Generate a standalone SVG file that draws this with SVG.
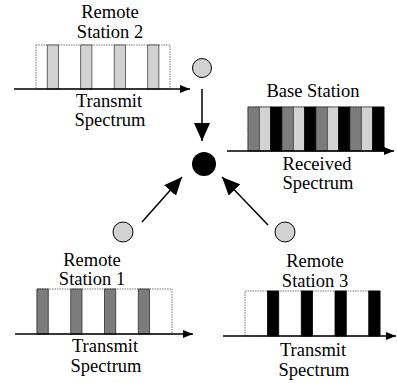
<svg xmlns="http://www.w3.org/2000/svg" width="397" height="383" viewBox="0 0 397 383">
<defs>
<marker id="big" viewBox="0 0 18 16" refX="18" refY="8" markerWidth="18" markerHeight="16" markerUnits="userSpaceOnUse" orient="auto"><path d="M0,0 L18,8 L0,16 z" fill="#000"/></marker>
<marker id="ax" viewBox="0 0 10 8" refX="10" refY="4" markerWidth="10" markerHeight="8" markerUnits="userSpaceOnUse" orient="auto"><path d="M0,0 L10,4 L0,8 z" fill="#000"/></marker>
</defs>
<style>
.t{font-family:'Times New Roman','Liberation Serif','DejaVu Serif',serif;font-size:18.5px;fill:#000;text-anchor:middle}
.box{fill:#fff;stroke:#777;stroke-width:1;stroke-dasharray:1.5,1}
.lt{fill:#d2d2d2;stroke:#444;stroke-width:0.8}
.dk{fill:#7c7c7c;stroke:#333;stroke-width:0.8}
.bk{fill:#000;stroke:#000;stroke-width:0.8}
.axis{stroke:#000;stroke-width:1.6;fill:none;marker-end:url(#ax)}
.conn{stroke:#000;stroke-width:1.5;fill:none;marker-end:url(#big)}
.st{fill:#d2d2d2;stroke:#000;stroke-width:1}
</style>
<rect width="397" height="383" fill="#fff"/>
<g id="remote2">
<text class="t" x="110" y="18">Remote</text>
<text class="t" x="110" y="38">Station 2</text>
<rect class="box" x="36" y="45" width="134" height="44"/>
<rect class="lt" x="47.2" y="45" width="11.2" height="44"/>
<rect class="lt" x="80.7" y="45" width="11.2" height="44"/>
<rect class="lt" x="114.2" y="45" width="11.2" height="44"/>
<rect class="lt" x="147.7" y="45" width="11.2" height="44"/>
<line class="axis" x1="14" y1="89" x2="190" y2="89"/>
<text class="t" x="109" y="107">Transmit</text>
<text class="t" x="110" y="126">Spectrum</text>
<circle class="st" cx="202" cy="68" r="9.5"/>
</g>
<g id="base">
<text class="t" x="313" y="97">Base Station</text>
<rect class="box" x="248" y="107" width="136" height="44"/>
<rect class="dk" x="248" y="107" width="11.33" height="44"/>
<rect class="lt" x="259.33" y="107" width="11.33" height="44"/>
<rect class="bk" x="270.67" y="107" width="11.33" height="44"/>
<rect class="dk" x="282" y="107" width="11.33" height="44"/>
<rect class="lt" x="293.33" y="107" width="11.33" height="44"/>
<rect class="bk" x="304.67" y="107" width="11.33" height="44"/>
<rect class="dk" x="316" y="107" width="11.33" height="44"/>
<rect class="lt" x="327.33" y="107" width="11.33" height="44"/>
<rect class="bk" x="338.67" y="107" width="11.33" height="44"/>
<rect class="dk" x="350" y="107" width="11.33" height="44"/>
<rect class="lt" x="361.33" y="107" width="11.33" height="44"/>
<rect class="bk" x="372.67" y="107" width="11.33" height="44"/>
<line class="axis" x1="227" y1="151" x2="394" y2="151"/>
<text class="t" x="317" y="170">Received</text>
<text class="t" x="318" y="189">Spectrum</text>
<circle cx="204" cy="164" r="12" fill="#000"/>
</g>
<g id="remote1">
<circle class="st" cx="123" cy="232" r="10"/>
<text class="t" x="92" y="266">Remote</text>
<text class="t" x="92" y="285">Station 1</text>
<rect class="box" x="37" y="289" width="135" height="45"/>
<rect class="dk" x="37" y="289" width="11.25" height="45"/>
<rect class="dk" x="70.75" y="289" width="11.25" height="45"/>
<rect class="dk" x="104.5" y="289" width="11.25" height="45"/>
<rect class="dk" x="138.25" y="289" width="11.25" height="45"/>
<line class="axis" x1="15" y1="334" x2="193" y2="334"/>
<text class="t" x="105" y="352">Transmit</text>
<text class="t" x="106" y="372">Spectrum</text>
</g>
<g id="remote3">
<circle class="st" cx="285" cy="232" r="10"/>
<text class="t" x="315" y="267">Remote</text>
<text class="t" x="315" y="287">Station 3</text>
<rect class="box" x="245" y="291" width="135" height="45"/>
<rect class="bk" x="267.5" y="291" width="11.25" height="45"/>
<rect class="bk" x="301.25" y="291" width="11.25" height="45"/>
<rect class="bk" x="335" y="291" width="11.25" height="45"/>
<rect class="bk" x="368.75" y="291" width="11.25" height="45"/>
<line class="axis" x1="223" y1="336" x2="396" y2="336"/>
<text class="t" x="313" y="356">Transmit</text>
<text class="t" x="314" y="376">Spectrum</text>
</g>
<g id="connectors">
<line class="conn" x1="202" y1="89" x2="202" y2="141"/>
<line class="conn" x1="142" y1="222" x2="182" y2="177"/>
<line class="conn" x1="268" y1="225" x2="222" y2="177"/>
</g>
</svg>
